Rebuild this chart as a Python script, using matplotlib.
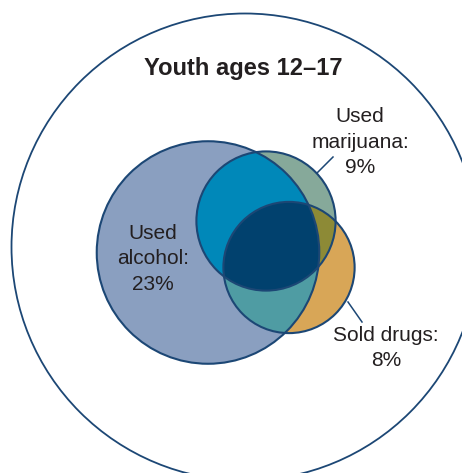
import numpy as np
import matplotlib.pyplot as plt
from matplotlib.patches import Circle, Polygon

plt.rcParams["font.family"] = ["Liberation Sans", "DejaVu Sans"]

# percentages (circle area is proportional to the share)
groups = ["Youth ages 12\u201317", "Used\nalcohol:", "Used\nmarijuana:", "Sold drugs:"]
shares = [100, 23, 9, 8]
share_labels = ["", "23%", "9%", "8%"]

# layout in pixel space
scale = 23.2
centers = [(245, 247), (208, 252.5), (266, 221), (289, 267.5)]
radii = [scale * np.sqrt(p) for p in shares]

edge = "#1c4775"
text_col = "#231f20"
c_alc = "#8a9fc0"
c_mar = "#86a99a"
c_sold = "#d8a657"
c_alc_mar = "#0088b9"
c_alc_sold = "#4f9ca3"
c_mar_sold = "#8d8a36"
c_all = "#01416e"

fig = plt.figure(figsize=(4.62, 4.73), dpi=100)
ax = fig.add_axes([0, 0, 1, 1])
ax.set_xlim(0, 462)
ax.set_ylim(473, 0)
ax.set_aspect("equal")
ax.axis("off")

# outer circle: all youth
ax.add_patch(Circle(centers[0], radii[0] + 1.5, fill=False, ec=edge, lw=1.3))


def circ(i, **kw):
    return Circle(centers[i], radii[i], transform=ax.transData, **kw)


# single-set fills
ax.add_patch(circ(1, fc=c_alc, ec="none"))
ax.add_patch(circ(2, fc=c_mar, ec="none"))
ax.add_patch(circ(3, fc=c_sold, ec="none"))

# pairwise overlaps
p = ax.add_patch(circ(2, fc=c_alc_mar, ec="none"))
p.set_clip_path(circ(1))
p = ax.add_patch(circ(3, fc=c_alc_sold, ec="none"))
p.set_clip_path(circ(1))
p = ax.add_patch(circ(3, fc=c_mar_sold, ec="none"))
p.set_clip_path(circ(2))

# triple overlap as polygon (intersection of three convex discs)
t = np.linspace(0, 2 * np.pi, 1440, endpoint=False)
pts = []
for i in (1, 2, 3):
    cx, cy = centers[i]
    xs = cx + radii[i] * np.cos(t)
    ys = cy + radii[i] * np.sin(t)
    keep = np.ones_like(xs, dtype=bool)
    for j in (1, 2, 3):
        if j != i:
            keep &= (xs - centers[j][0]) ** 2 + (ys - centers[j][1]) ** 2 <= radii[j] ** 2 + 1e-6
    pts.append(np.column_stack([xs[keep], ys[keep]]))
pts = np.vstack(pts)
mid = pts.mean(axis=0)
order = np.argsort(np.arctan2(pts[:, 1] - mid[1], pts[:, 0] - mid[0]))
ax.add_patch(Polygon(pts[order], closed=True, fc=c_all, ec="none"))

# outlines
for i in (1, 2, 3):
    ax.add_patch(Circle(centers[i], radii[i], fill=False, ec=edge, lw=1.5))

# text
ax.text(243, 68, groups[0], ha="center", va="center", fontsize=17,
        fontweight="bold", color=text_col)
ax.text(153, 259, groups[1] + "\n" + share_labels[1], ha="center", va="center",
        fontsize=15, color=text_col, linespacing=1.42)
ax.text(360, 142, groups[2] + "\n" + share_labels[2], ha="center", va="center",
        fontsize=15, color=text_col, linespacing=1.42)
ax.text(386, 348, groups[3] + "\n" + share_labels[3], ha="center", va="center",
        fontsize=15, color=text_col, linespacing=1.42)

# leader lines
ax.plot([333, 317], [157, 173], color=edge, lw=1.1)
ax.plot([348, 362], [302, 322], color=edge, lw=1.1)

fig.savefig("out.png", dpi=100)
